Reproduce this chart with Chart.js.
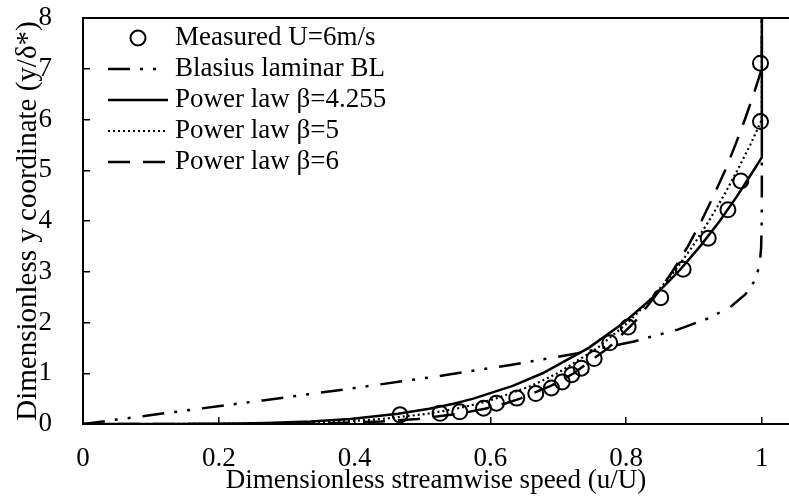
<!DOCTYPE html>
<html>
<head>
<meta charset="utf-8">
<script src="https://cdn.jsdelivr.net/npm/chart.js@4.4.1/dist/chart.umd.min.js"></script>
<style>
  html, body { margin: 0; padding: 0; background: #fff; }
  canvas { display: block; }
</style>
</head>
<body>
<canvas id="c" width="789" height="497"></canvas>
<script>
// ---- data ----
const xTickValues = [0, 0.2, 0.4, 0.6, 0.8, 1];
const xTickLabels = ['0', '0.2', '0.4', '0.6', '0.8', '1'];
const yTickValues = [0, 1, 2, 3, 4, 5, 6, 7, 8];
const yTickLabels = ['0', '1', '2', '3', '4', '5', '6', '7', '8'];

const seriesNames = ['Measured U=6m/s', 'Blasius laminar BL', 'Power law \u03b2=4.255', 'Power law \u03b2=5', 'Power law \u03b2=6'];

const measuredU = [0.467, 0.526, 0.555, 0.590, 0.609, 0.639, 0.667, 0.690, 0.706, 0.720, 0.734, 0.753, 0.776, 0.803, 0.851, 0.884, 0.921, 0.950, 0.969, 0.998, 0.998];
const measuredY = [0.18, 0.21, 0.24, 0.31, 0.41, 0.51, 0.60, 0.71, 0.83, 0.97, 1.10, 1.29, 1.60, 1.91, 2.49, 3.05, 3.66, 4.22, 4.79, 5.96, 7.11];

const blasiusU = [0, 0.1328, 0.2647, 0.3938, 0.5168, 0.6298, 0.7290, 0.8115, 0.8761, 0.9233, 0.9555, 0.9759, 0.9878, 0.9943, 0.9975, 0.9990, 0.9999, 1, 1];
const blasiusY = [0, 0.233, 0.465, 0.697, 0.930, 1.162, 1.395, 1.627, 1.860, 2.092, 2.325, 2.557, 2.789, 3.022, 3.254, 3.487, 4.068, 4.649, 5.230];

const pow4255U = [0, 0.078, 0.134, 0.229, 0.270, 0.335, 0.394, 0.464, 0.510, 0.546, 0.575, 0.633, 0.677, 0.745, 0.797, 0.840, 0.877, 0.909, 0.938, 0.964, 0.988, 1, 1];
const pow4255Y = [0, 0.0001, 0.001, 0.01, 0.02, 0.05, 0.1, 0.2, 0.3, 0.4, 0.5, 0.75, 1, 1.5, 2, 2.5, 3, 3.5, 4, 4.5, 5, 5.255, 8];

const pow5U = [0, 0.111, 0.176, 0.278, 0.320, 0.384, 0.441, 0.507, 0.549, 0.582, 0.608, 0.660, 0.699, 0.758, 0.803, 0.839, 0.871, 0.898, 0.922, 0.944, 0.964, 0.983, 1, 1];
const pow5Y = [0, 0.0001, 0.001, 0.01, 0.02, 0.05, 0.1, 0.2, 0.3, 0.4, 0.5, 0.75, 1, 1.5, 2, 2.5, 3, 3.5, 4, 4.5, 5, 5.5, 6, 8];

const pow6U = [0, 0.156, 0.229, 0.336, 0.377, 0.439, 0.493, 0.553, 0.592, 0.621, 0.644, 0.689, 0.723, 0.774, 0.812, 0.842, 0.868, 0.891, 0.911, 0.929, 0.946, 0.961, 0.975, 0.988, 1, 1];
const pow6Y = [0, 0.0001, 0.001, 0.01, 0.02, 0.05, 0.1, 0.2, 0.3, 0.4, 0.5, 0.75, 1, 1.5, 2, 2.5, 3, 3.5, 4, 4.5, 5, 5.5, 6, 6.5, 7, 8];

// ---- helpers ----
const pts = (xs, ys) => xs.map((x, i) => ({ x: x, y: ys[i] }));
const FONT = 'Liberation Serif, Times New Roman, serif';

const lineDs = (label, xs, ys, dash, width) => ({
  label: label,
  data: pts(xs, ys),
  showLine: true,
  borderColor: '#000',
  backgroundColor: '#000',
  borderWidth: width,
  borderDash: dash,
  pointRadius: 0,
  tension: 0,
  fill: false
});

const datasets = [
  {
    label: seriesNames[0],
    data: pts(measuredU, measuredY),
    showLine: false,
    pointStyle: 'circle',
    pointRadius: 7.5,
    pointBorderWidth: 2,
    pointBorderColor: '#000',
    pointBackgroundColor: 'rgba(0,0,0,0)',
    borderColor: '#000',
    backgroundColor: 'rgba(0,0,0,0)'
  },
  lineDs(seriesNames[1], blasiusU, blasiusY, [22, 10, 3, 10, 3, 12], 2.5),
  lineDs(seriesNames[2], pow4255U, pow4255Y, [], 2.5),
  lineDs(seriesNames[3], pow5U, pow5Y, [2, 3], 2.2),
  lineDs(seriesNames[4], pow6U, pow6Y, [22, 13], 2.5)
];

// top frame line
const topBorder = {
  id: 'topBorder',
  afterDraw(chart) {
    const { ctx, chartArea } = chart;
    ctx.save();
    ctx.strokeStyle = '#000';
    ctx.lineWidth = 2;
    ctx.setLineDash([]);
    ctx.beginPath();
    ctx.moveTo(chartArea.left - 1, chartArea.top);
    ctx.lineTo(chart.width, chartArea.top);
    ctx.stroke();
    ctx.restore();
  }
};

// legend drawn inside the plot area
const insideLegend = {
  id: 'insideLegend',
  afterDraw(chart) {
    const { ctx } = chart;
    const x0 = 108, x1 = 168, tx = 175, y0 = 38, dy = 31;
    ctx.save();
    ctx.font = '27px ' + FONT;
    ctx.fillStyle = '#000';
    ctx.strokeStyle = '#000';
    ctx.textBaseline = 'middle';
    ctx.textAlign = 'left';
    chart.data.datasets.forEach((ds, i) => {
      const y = y0 + i * dy;
      ctx.beginPath();
      if (ds.showLine) {
        ctx.setLineDash(ds.borderDash || []);
        ctx.lineWidth = ds.borderWidth;
        ctx.moveTo(x0, y);
        ctx.lineTo(x1, y);
      } else {
        ctx.setLineDash([]);
        ctx.lineWidth = ds.pointBorderWidth;
        ctx.arc((x0 + x1) / 2, y, ds.pointRadius, 0, Math.PI * 2);
      }
      ctx.stroke();
      ctx.setLineDash([]);
      ctx.fillText(ds.label, tx, y);
    });
    ctx.restore();
  }
};

new Chart(document.getElementById('c'), {
  type: 'scatter',
  data: { datasets: datasets },
  options: {
    responsive: false,
    animation: false,
    devicePixelRatio: 1,
    layout: { autoPadding: false, padding: { top: 18, left: 0, right: 0, bottom: 0 } },
    plugins: {
      legend: { display: false },
      tooltip: { enabled: false }
    },
    scales: {
      x: {
        type: 'linear',
        min: 0,
        max: 1.04,
        afterBuildTicks: s => { s.ticks = xTickValues.map(v => ({ value: v })); },
        ticks: {
          color: '#000',
          padding: 26,
          maxRotation: 0,
          autoSkip: false,
          font: { family: FONT, size: 27 },
          callback: (v, i) => xTickLabels[i]
        },
        grid: { drawOnChartArea: false, drawTicks: true, tickLength: -7, color: '#000', lineWidth: 1.5 },
        border: { display: true, color: '#000', width: 2 },
        title: {
          display: true,
          text: 'Dimensionless streamwise speed (u/U)',
          color: '#000',
          font: { family: FONT, size: 27 },
          padding: { top: 0, bottom: 0 }
        },
        afterFit: s => { s.height = 73; s.paddingLeft = 0; s.paddingRight = 0; }
      },
      y: {
        type: 'linear',
        min: 0,
        max: 8,
        afterBuildTicks: s => { s.ticks = yTickValues.map(v => ({ value: v })); },
        ticks: {
          color: '#000',
          padding: 38,
          autoSkip: false,
          font: { family: FONT, size: 27 },
          callback: (v, i) => yTickLabels[i]
        },
        grid: { drawOnChartArea: false, drawTicks: true, tickLength: -7, color: '#000', lineWidth: 1.5 },
        border: { display: true, color: '#000', width: 2 },
        title: {
          display: true,
          text: 'Dimensionless y coordinate (y/\u03b4*)',
          color: '#000',
          font: { family: FONT, size: 29 },
          padding: { top: 10.5, bottom: 0 }
        },
        afterFit: s => { s.width = 83; s.paddingTop = 0; s.paddingBottom = 0; }
      }
    }
  },
  plugins: [topBorder, insideLegend]
});
</script>
</body>
</html>
